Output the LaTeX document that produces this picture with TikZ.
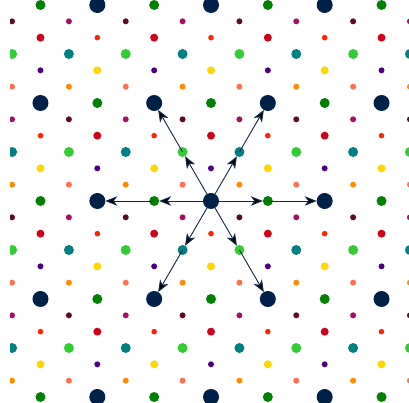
\documentclass[tikz,border=0pt]{standalone}
\usetikzlibrary{arrows.meta}
\definecolor{cnavy}{RGB}{0,33,71}
\definecolor{cgreen}{RGB}{0,128,0}
\definecolor{cmaroon}{RGB}{92,10,42}
\definecolor{cmagenta}{RGB}{165,16,100}
\definecolor{corangered}{RGB}{255,36,0}
\definecolor{ccrimson}{RGB}{208,2,27}
\definecolor{clime}{RGB}{50,205,50}
\definecolor{cteal}{RGB}{0,128,128}
\definecolor{cyellow}{RGB}{255,215,0}
\definecolor{cindigo}{RGB}{75,0,130}
\definecolor{csalmon}{RGB}{255,112,80}
\definecolor{corange}{RGB}{255,140,0}
\definecolor{cline}{RGB}{16,38,68}
\tikzset{
  dot/.style={circle,inner sep=0pt,outer sep=0pt,draw=none},
  t00/.style={fill=cnavy,minimum size=16pt},
  t01/.style={fill=cmaroon,minimum size=6pt},
  t02/.style={fill=corangered,minimum size=5.6pt},
  t03/.style={fill=clime,minimum size=10pt},
  t04/.style={fill=cyellow,minimum size=8pt},
  t05/.style={fill=csalmon,minimum size=6pt},
  t10/.style={fill=cgreen,minimum size=10pt},
  t11/.style={fill=cmagenta,minimum size=6pt},
  t12/.style={fill=ccrimson,minimum size=8pt},
  t13/.style={fill=cteal,minimum size=10pt},
  t14/.style={fill=cindigo,minimum size=6pt},
  t15/.style={fill=corange,minimum size=6pt},
  conn/.style={draw=cline,line width=0.9pt,-{Stealth[length=12pt,width=9.5pt,inset=3.5pt,fill=black!85!cline]}}
}
\begin{document}
\begin{tikzpicture}[x=1pt,y=1pt]
\useasboundingbox (0,0) rectangle (409,402);
\clip (10,0) rectangle (409,402);
\foreach \k in {0,...,24}{
  \foreach \nn in {1,...,15}{
    \pgfmathtruncatemacro{\pty}{mod(\nn+\k,2)}
    \ifnum\pty=0
      \pgfmathtruncatemacro{\pp}{mod(\k,6)}
      \pgfmathtruncatemacro{\hh}{mod(floor(\k/6),2)}
      \pgfmathtruncatemacro{\kp}{mod(\k,2)}
      \pgfmathtruncatemacro{\mm}{mod((\nn-\kp)/2+\hh,2)}
      \node[dot,t\mm\pp] (d-\nn-\k) at ({211+28.42*(\nn-8)},{397-16.333*\k}) {};
    \fi
  }
}
% arrows from the centre: centre -> middle dot -> big dot
\draw[conn] (d-8-12) -- (d-7-9);
\draw[conn] (d-7-9.center) -- (d-6-6);
\draw[conn] (d-8-12) -- (d-9-9);
\draw[conn] (d-9-9.center) -- (d-10-6);
\draw[conn] (d-8-12) -- (d-6-12);
\draw[conn] (d-6-12.center) -- (d-4-12);
\draw[conn] (d-8-12) -- (d-10-12);
\draw[conn] (d-10-12.center) -- (d-12-12);
\draw[conn] (d-8-12) -- (d-7-15);
\draw[conn] (d-7-15.center) -- (d-6-18);
\draw[conn] (d-8-12) -- (d-9-15);
\draw[conn] (d-9-15.center) -- (d-10-18);
\end{tikzpicture}
\end{document}
